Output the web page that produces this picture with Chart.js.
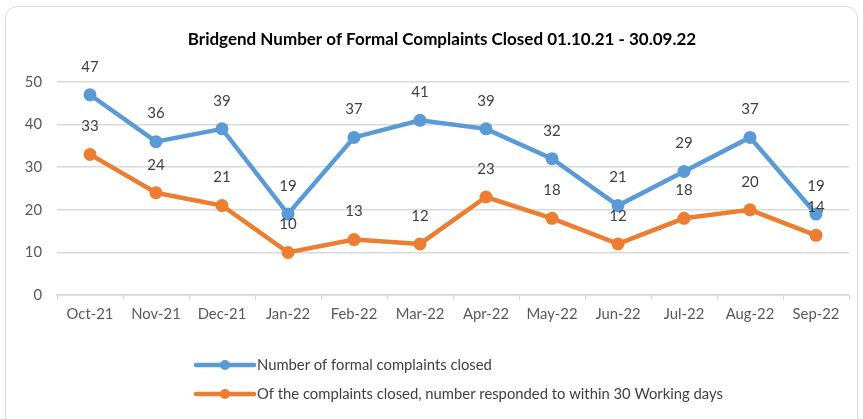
<!DOCTYPE html>
<html>
<head>
<meta charset="utf-8">
<script src="https://cdn.jsdelivr.net/npm/chart.js@4/dist/chart.umd.min.js"></script>
<style>
  html, body { margin: 0; padding: 0; background: #fff; }
  #wrap { position: relative; width: 863px; height: 419px; overflow: hidden; }
  #frame {
    position: absolute; left: 5px; top: 6px; width: 851px; height: 430px;
    border: 1.5px solid #d9d9d9; border-radius: 12px; pointer-events: none;
  }
</style>
</head>
<body>
<div id="wrap">
  <canvas id="chart" width="863" height="419"></canvas>
  <div id="frame"></div>
</div>
<script>
const months = ['Oct-21', 'Nov-21', 'Dec-21', 'Jan-22', 'Feb-22', 'Mar-22',
                'Apr-22', 'May-22', 'Jun-22', 'Jul-22', 'Aug-22', 'Sep-22'];
const closed = [47, 36, 39, 19, 37, 41, 39, 32, 21, 29, 37, 19];
const within30 = [33, 24, 21, 10, 13, 12, 23, 18, 12, 18, 20, 14];
const yTicks = [0, 10, 20, 30, 40, 50];

const titleText = 'Bridgend Number of Formal Complaints Closed 01.10.21 - 30.09.22';
const FONT = 'Lato, "Open Sans", sans-serif';

// title, value labels and the stacked legend are drawn by hand
const extras = {
    id: 'extras',
    afterDatasetsDraw(chart) {
        const ctx = chart.ctx;
        ctx.save();
        ctx.fillStyle = '#404040';
        ctx.font = '15px ' + FONT;
        ctx.textAlign = 'center';
        ctx.textBaseline = 'middle';
        chart.data.datasets.forEach((ds, i) => {
            chart.getDatasetMeta(i).data.forEach((pt, j) => {
                ctx.fillText(String(ds.data[j]), pt.x, pt.y - 28);
            });
        });
        ctx.restore();
    },
    afterDraw(chart) {
        const ctx = chart.ctx;
        ctx.save();
        ctx.fillStyle = '#000';
        ctx.font = 'bold 17px ' + FONT;
        ctx.textAlign = 'center';
        ctx.textBaseline = 'middle';
        ctx.fillText(titleText, 442, 40);

        const rows = [365, 394];
        ctx.font = '14.8px ' + FONT;
        ctx.textAlign = 'left';
        chart.data.datasets.forEach((ds, i) => {
            const y = rows[i];
            ctx.strokeStyle = ds.borderColor;
            ctx.lineWidth = 4.5;
            ctx.lineCap = 'round';
            ctx.beginPath();
            ctx.moveTo(196, y);
            ctx.lineTo(254, y);
            ctx.stroke();
            ctx.fillStyle = ds.borderColor;
            ctx.beginPath();
            ctx.arc(225, y, 5, 0, Math.PI * 2);
            ctx.fill();
            ctx.fillStyle = '#404040';
            ctx.fillText(ds.label, 257, y);
        });
        ctx.restore();
    }
};

new Chart(document.getElementById('chart'), {
    type: 'line',
    data: {
        labels: months,
        datasets: [
            {
                label: 'Number of formal complaints closed',
                data: closed,
                borderColor: '#5B9BD5',
                backgroundColor: '#5B9BD5',
                borderWidth: 4.5,
                pointRadius: 6.5,
                pointBorderWidth: 0,
                tension: 0
            },
            {
                label: 'Of the complaints closed, number responded to within 30 Working days',
                data: within30,
                borderColor: '#ED7D31',
                backgroundColor: '#ED7D31',
                borderWidth: 4.5,
                pointRadius: 6.5,
                pointBorderWidth: 0,
                tension: 0
            }
        ]
    },
    options: {
        responsive: false,
        animation: false,
        layout: { padding: { top: 82, right: 14, left: 0, bottom: 84 } },
        plugins: {
            legend: { display: false },
            title: { display: false },
            tooltip: { enabled: false }
        },
        scales: {
            x: {
                offset: true,
                afterFit: s => { s.height = 40; },
                grid: {
                    offset: true,
                    drawOnChartArea: false,
                    drawTicks: true,
                    tickLength: 5,
                    color: '#d9d9d9'
                },
                border: { display: true, color: '#d9d9d9', width: 1.5 },
                ticks: {
                    color: '#595959',
                    font: { family: FONT, size: 14.8 },
                    padding: 5,
                    maxRotation: 0
                }
            },
            y: {
                min: yTicks[0],
                max: yTicks[yTicks.length - 1],
                afterFit: s => { s.width = 57; },
                afterBuildTicks: s => { s.ticks = yTicks.map(v => ({ value: v })); },
                grid: { color: '#d9d9d9', drawTicks: false, lineWidth: 1.5 },
                border: { display: false },
                ticks: {
                    color: '#595959',
                    font: { family: FONT, size: 14.8 },
                    padding: 15
                }
            }
        }
    },
    plugins: [extras]
});
</script>
</body>
</html>
